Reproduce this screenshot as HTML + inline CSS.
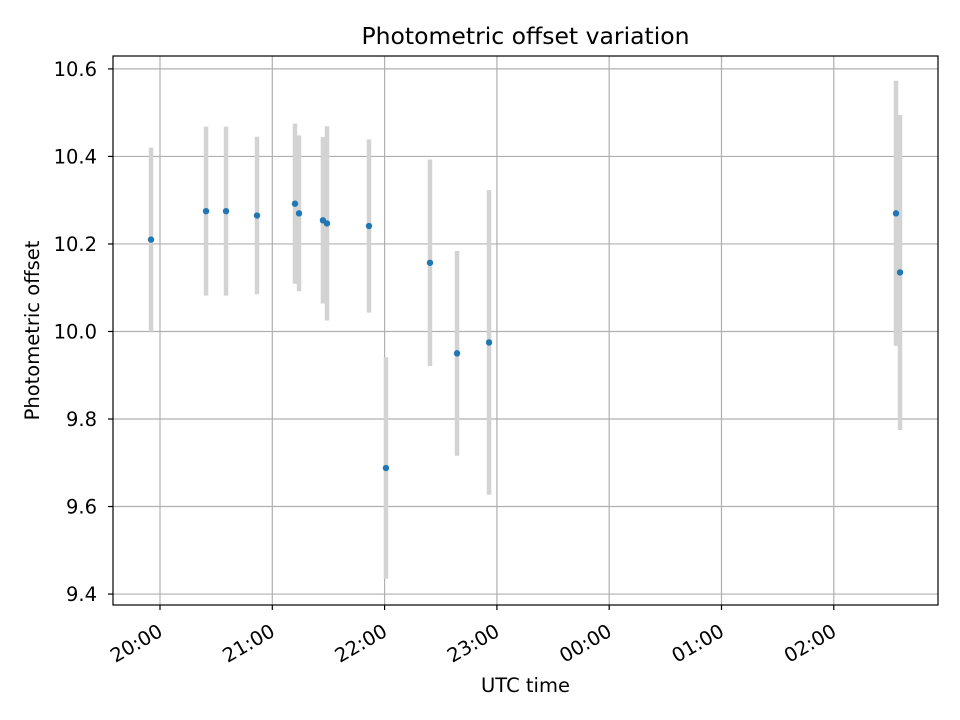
<!DOCTYPE html>
<html><head><meta charset="utf-8"><style>body{margin:0;background:#fff}svg{display:block;font-family:"DejaVu Sans","Liberation Sans",sans-serif}</style></head>
<body>
<svg id="chart" width="960" height="720"></svg>
<script>
const hoursSince2000=[-0.08,0.41,0.588,0.864,1.202,1.238,1.451,1.487,1.861,2.012,2.404,2.645,2.93,6.554,6.59];
const offsets=[10.21,10.275,10.275,10.265,10.292,10.27,10.254,10.247,10.241,9.688,10.157,9.95,9.975,10.27,10.135];
const errors=[0.21,0.193,0.193,0.18,0.183,0.178,0.19,0.222,0.198,0.253,0.236,0.234,0.348,0.303,0.36];
const yTicks=[9.4,9.6,9.8,10.0,10.2,10.4,10.6];
const xTickHours=[0,1,2,3,4,5,6];
const xTickLabels=["20:00","21:00","22:00","23:00","00:00","01:00","02:00"];

const L=113,R=938,T=56,B=605;
const xMin=-0.4185,xMax=6.928,yMin=9.375,yMax=10.6295;
const X=h=>L+(h-xMin)/(xMax-xMin)*(R-L);
const Y=v=>B-(v-yMin)/(yMax-yMin)*(B-T);
const svg=document.getElementById('chart');
const NS='http://www.w3.org/2000/svg';
function mk(tag,attrs,parent){const e=document.createElementNS(NS,tag);for(const k in attrs)e.setAttribute(k,attrs[k]);(parent||svg).appendChild(e);return e;}

const grid=mk('g',{});


yTicks.forEach(v=>{
  mk('line',{x1:L,x2:R,y1:Y(v),y2:Y(v),stroke:'#b0b0b0','stroke-width':1.2},grid);
  mk('line',{x1:L-5,x2:L,y1:Y(v),y2:Y(v),stroke:'#000','stroke-width':1.2});
  const t=mk('text',{x:L-16,y:Y(v)+7,'text-anchor':'end','font-size':'19.5',fill:'#000'});
  
  
  t.textContent=v.toFixed(1);
});
xTickHours.forEach((h,i)=>{
  mk('line',{x1:X(h),x2:X(h),y1:T,y2:B,stroke:'#b0b0b0','stroke-width':1.2},grid);
  mk('line',{x1:X(h),x2:X(h),y1:B,y2:B+5,stroke:'#000','stroke-width':1.2});
  const ax=X(h)+4,ay=B+30;
  const t=mk('text',{x:ax,y:ay,'text-anchor':'end','font-size':'19.5',fill:'#000',transform:`rotate(-30 ${ax} ${ay})`});
  
  
  t.textContent=xTickLabels[i];
});
const eb=mk('g',{});


hoursSince2000.forEach((h,i)=>{
  const l=mk('line',{x1:X(h),x2:X(h),y1:Y(offsets[i]+errors[i]),y2:Y(offsets[i]-errors[i]),stroke:'#d3d3d3','stroke-width':4.5},eb);
  
  
});
hoursSince2000.forEach((h,i)=>{
  const c=mk('circle',{cx:X(h),cy:Y(offsets[i]),r:3.2,fill:'#1f77b4'});
  
  
});
const frame=mk('rect',{x:L,y:T,width:R-L,height:B-T,fill:'none',stroke:'#000','stroke-width':1.2});


const title=mk('text',{x:(L+R)/2,y:44,'text-anchor':'middle','font-size':'23.5',fill:'#000'});


title.textContent='Photometric offset variation';
const xt=mk('text',{x:(L+R)/2,y:692,'text-anchor':'middle','font-size':'19.5',fill:'#000'});


xt.textContent='UTC time';
const yt=mk('text',{x:39,y:(T+B)/2,'text-anchor':'middle','font-size':'19.5',fill:'#000',transform:`rotate(-90 39 ${(T+B)/2})`});


yt.textContent='Photometric offset';
</script>
</body></html>
